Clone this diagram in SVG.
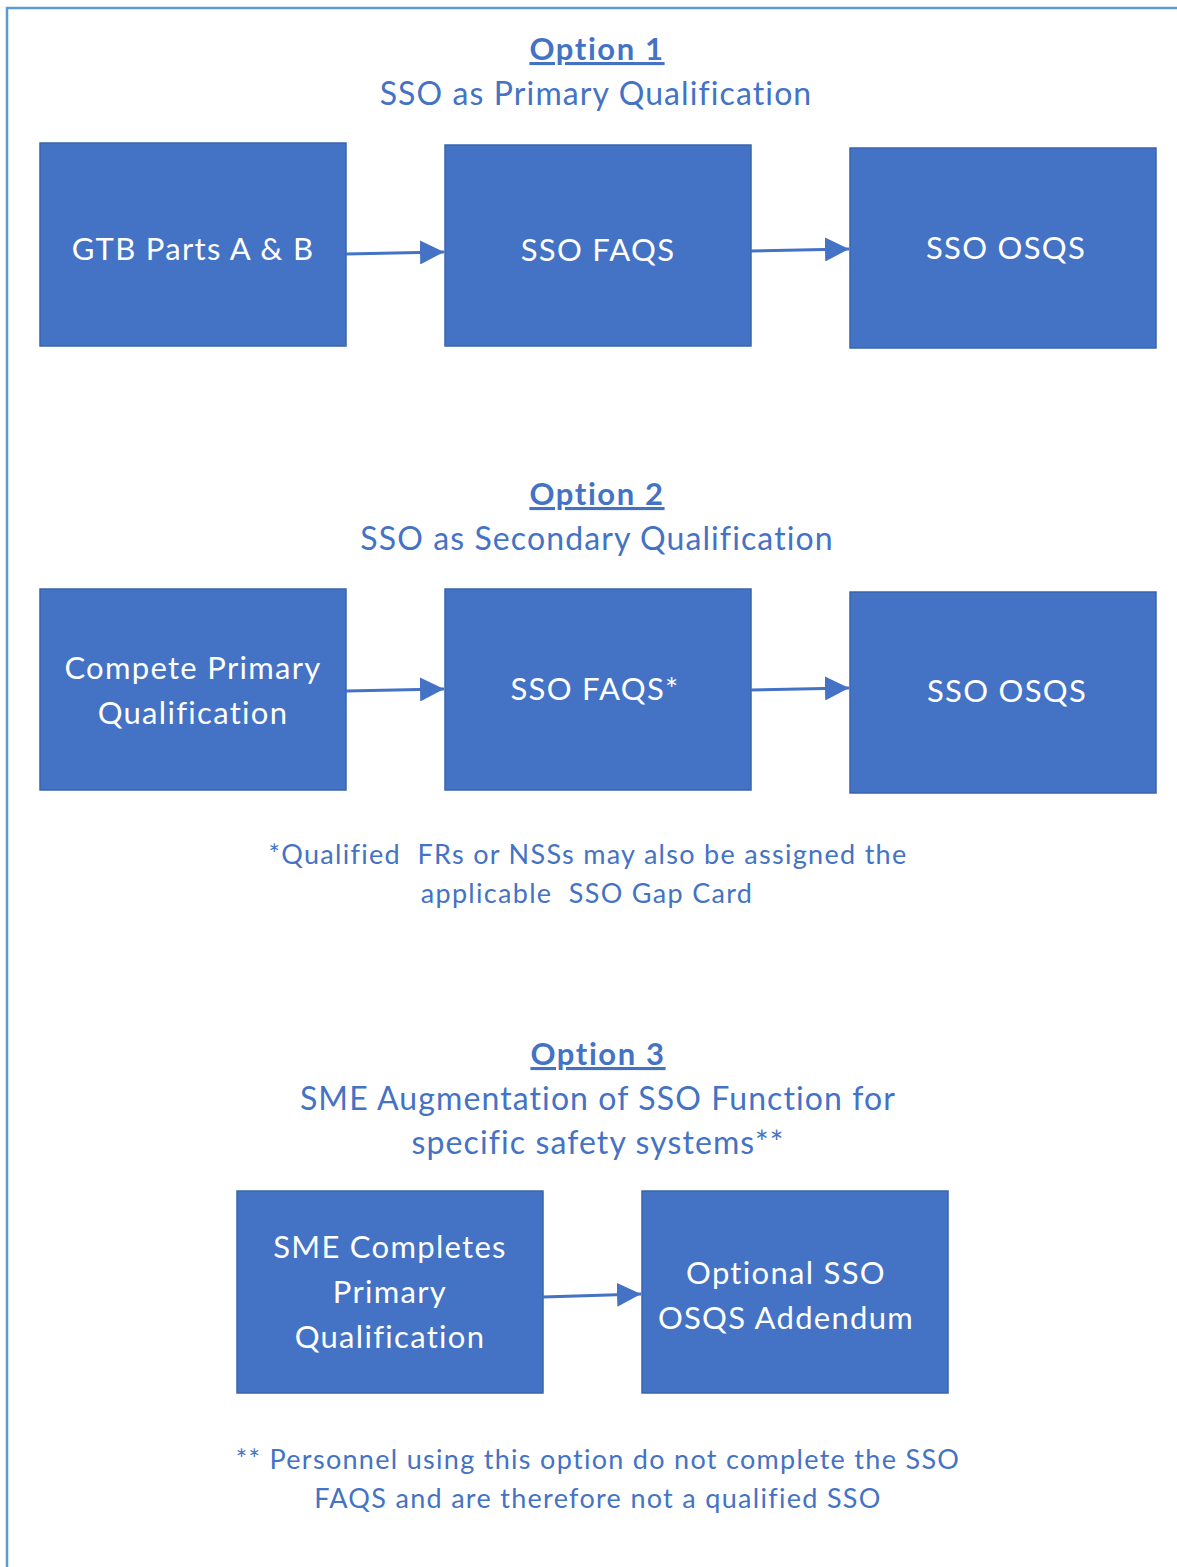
<svg xmlns="http://www.w3.org/2000/svg" width="1177" height="1567" viewBox="0 0 1177 1567">
<style>
.box{fill:#4472C4;stroke:#3A64AE;stroke-width:1.5}
.bt{font-family:Lato,"Open Sans",sans-serif;font-size:31px;fill:#FFFFFF;text-anchor:middle;letter-spacing:1.3px}
.h{font-family:Lato,"Open Sans",sans-serif;font-size:31px;font-weight:bold;fill:#4472C4;text-anchor:middle;text-decoration:underline;letter-spacing:1.6px}
.s{font-family:Lato,"Open Sans",sans-serif;font-size:32px;fill:#4472C4;text-anchor:middle;letter-spacing:1.1px}
.n{font-family:Lato,"Open Sans",sans-serif;font-size:27px;fill:#4472C4;text-anchor:middle;letter-spacing:1.3px;white-space:pre}
.c{stroke:#4472C4;stroke-width:3;fill:none;marker-end:url(#ah)}
</style>
<defs>
<marker id="ah" markerWidth="8" markerHeight="8" refX="8" refY="4" orient="auto" markerUnits="strokeWidth">
<path d="M0,0 L8,4 L0,8 Z" fill="#4472C4"/>
</marker>
</defs>
<rect width="1177" height="1567" fill="#FFFFFF"/>
<path d="M7,1567 V8 H1177" fill="none" stroke="#5B9BD5" stroke-width="2.5"/>

<g id="titles">
<text class="h" x="597" y="60">Option 1</text>
<text class="s" x="596" y="105">SSO as Primary Qualification</text>
<text class="h" x="597" y="505">Option 2</text>
<text class="s" x="597" y="550">SSO as Secondary Qualification</text>
<text class="n" x="588" y="864" xml:space="preserve">*Qualified  FRs or NSSs may also be assigned the</text>
<text class="n" x="587" y="903" xml:space="preserve">applicable  SSO Gap Card</text>
<text class="h" x="598" y="1065">Option 3</text>
<text class="s" x="598" y="1110">SME Augmentation of SSO Function for</text>
<text class="s" x="598" y="1154">specific safety systems**</text>
<text class="n" x="598" y="1469">** Personnel using this option do not complete the SSO</text>
<text class="n" x="598" y="1508">FAQS and are therefore not a qualified SSO</text>
</g>

<g id="n1"><rect class="box" x="40" y="143" width="306" height="203"/><text class="bt" x="193" y="260">GTB Parts A &amp; B</text></g>
<g id="n2"><rect class="box" x="445" y="145" width="306" height="201"/><text class="bt" x="598" y="261">SSO FAQS</text></g>
<g id="n3"><rect class="box" x="850" y="148" width="306" height="200"/><text class="bt" x="1006" y="259">SSO OSQS</text></g>

<g id="n4"><rect class="box" x="40" y="589" width="306" height="201"/><text class="bt" x="193" y="679">Compete Primary</text><text class="bt" x="193" y="724">Qualification</text></g>
<g id="n5"><rect class="box" x="445" y="589" width="306" height="201"/><text class="bt" x="595" y="700">SSO FAQS*</text></g>
<g id="n6"><rect class="box" x="850" y="592" width="306" height="201"/><text class="bt" x="1007" y="702">SSO OSQS</text></g>

<g id="n7"><rect class="box" x="237" y="1191" width="306" height="202"/><text class="bt" x="390" y="1258">SME Completes</text><text class="bt" x="390" y="1303">Primary</text><text class="bt" x="390" y="1348">Qualification</text></g>
<g id="n8"><rect class="box" x="642" y="1191" width="306" height="202"/><text class="bt" x="786" y="1284">Optional SSO</text><text class="bt" x="786" y="1329">OSQS Addendum</text></g>

<g id="connectors">
<path class="c" d="M346,254 L444,252"/>
<path class="c" d="M751,251 L849,249"/>
<path class="c" d="M346,691 L444,689"/>
<path class="c" d="M751,690 L849,688"/>
<path class="c" d="M543,1297 L641,1294"/>
</g>
</svg>
